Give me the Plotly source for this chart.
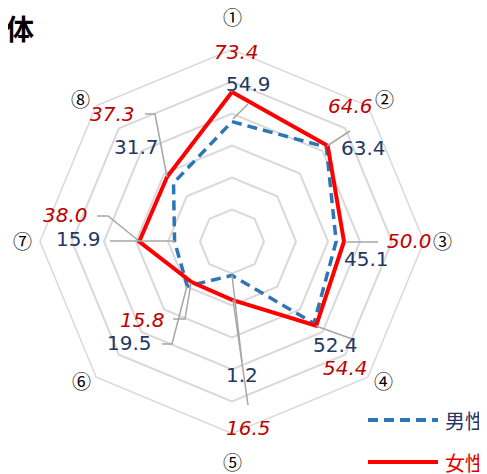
import plotly.graph_objects as go

W, H = 487, 474
OFF = 8  # the page body adds an 8px margin, so pull everything back by that

# data
categories = ["①", "②", "③", "④", "⑤", "⑥", "⑦", "⑧"]
male = [54.9, 63.4, 45.1, 52.4, 1.2, 19.5, 15.9, 31.7]
female = [73.4, 64.6, 50.0, 54.4, 16.5, 15.8, 38.0, 37.3]
series_names = ["男性", "女性"]
title_text = "全体"

# layout helpers (screen pixel -> paper)
def px(x):
    return (x - OFF) / W

def py(y):
    return 1 - (y - OFF) / H

BLUE = "#2E75B6"
RED = "#FF0000"
NAVY = "#1F3864"
DARKRED = "#C00000"
GRID = "#D9D9D9"
LEADER = "#A6A6A6"

fig = go.Figure()

fig.add_trace(go.Scatterpolar(
    r=male + male[:1], theta=categories + categories[:1],
    mode="lines", name=series_names[0],
    line=dict(color=BLUE, width=3.5, dash="10px,6px"),
    showlegend=False,
))
fig.add_trace(go.Scatterpolar(
    r=female + female[:1], theta=categories + categories[:1],
    mode="lines", name=series_names[1],
    line=dict(color=RED, width=4),
    showlegend=False,
))

# label positions (pixel centres), hand placed like the original
male_pos = [(248, 84), (363, 148), (366, 259), (335, 345), (242, 375), (129, 343), (78, 239), (136, 147)]
female_pos = [(236, 52), (350, 106), (409, 241), (345, 368), (248, 428), (142, 320), (65, 215), (112, 114)]
cat_pos = [(232, 16), (384, 98), (442, 240), (383, 380), (232, 461), (81, 380), (22, 240), (80, 98)]

def label(x, y, text, font, xanchor="center"):
    return dict(x=px(x), y=py(y), xref="paper", yref="paper", text=text,
                xanchor=xanchor, yanchor="middle", showarrow=False, font=font)

annotations = []
for v, (x, y) in zip(male, male_pos):
    annotations.append(label(x, y, f"{v:.1f}", dict(family="DejaVu Sans", size=20, color=NAVY)))
for v, (x, y) in zip(female, female_pos):
    annotations.append(label(x, y, f"<i>{v:.1f}</i>", dict(family="DejaVu Sans", size=20, color=DARKRED)))
for c, (x, y) in zip(categories, cat_pos):
    annotations.append(label(x, y, c, dict(family="Noto Sans CJK JP", size=19, color="black")))

# title (cut off at the left edge like the source)
annotations.append(label(36, 28, f"<b>{title_text}</b>",
                         dict(family="Noto Sans CJK JP", size=28, color="black"), xanchor="right"))

# legend text
annotations.append(label(443, 420, series_names[0],
                         dict(family="Noto Sans CJK JP", size=20, color=NAVY), xanchor="left"))
annotations.append(label(443, 462, series_names[1],
                         dict(family="Noto Sans CJK JP", size=20, color="#E00000"), xanchor="left"))

# leader lines
leaders = [
    [(145, 114), (155, 114), (167, 177)],
    [(97, 216), (108, 216), (139, 241)],
    [(110, 241), (175, 241)],
    [(173, 319), (185, 319), (191, 283)],
    [(162, 344), (172, 344), (187, 286)],
    [(232, 275), (242, 362)],
    [(233, 300), (248, 405)],
    [(316, 326), (355, 340)],
    [(345, 242), (378, 242)],
    [(327, 146), (350, 131)],
    [(233, 119), (248, 104)],
]
shapes = []
for pts in leaders:
    path = "M" + " L".join(f"{px(x):.5f},{py(y):.5f}" for x, y in pts)
    shapes.append(dict(type="path", xref="paper", yref="paper", path=path,
                       line=dict(color=LEADER, width=1.5)))

# legend lines
shapes.append(dict(type="line", xref="paper", yref="paper", x0=px(368), x1=px(438), y0=py(420), y1=py(420),
                   line=dict(color=BLUE, width=4, dash="10px,6px")))
shapes.append(dict(type="line", xref="paper", yref="paper", x0=px(368), x1=px(438), y0=py(462), y1=py(462),
                   line=dict(color=RED, width=4)))

fig.update_layout(
    width=W, height=H,
    margin=dict(l=0, r=0, t=0, b=0),
    paper_bgcolor="white",
    showlegend=False,
    polar=dict(
        domain=dict(x=[px(40), px(424)], y=[py(433.5), py(49.5)]),
        gridshape="linear",
        bgcolor="white",
        radialaxis=dict(range=[-20, 100], tick0=0, dtick=20, showticklabels=False, ticks="",
                        showline=False, gridcolor=GRID, gridwidth=1.5),
        angularaxis=dict(rotation=90, direction="clockwise", showticklabels=False, ticks="",
                         showgrid=False, showline=True, linecolor=GRID, linewidth=1.5),
    ),
    annotations=annotations,
    shapes=shapes,
)

fig.write_html("out.html")
